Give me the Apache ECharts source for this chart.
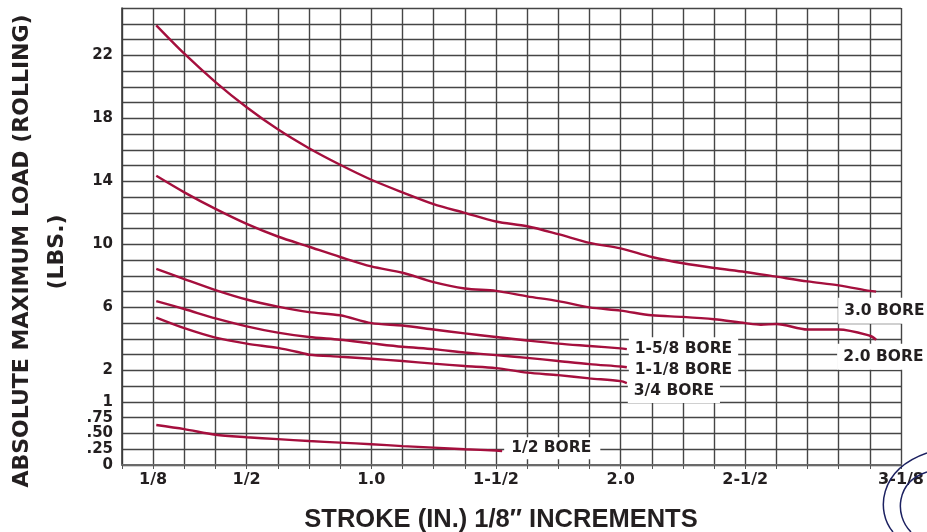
<!DOCTYPE html>
<html><head><meta charset="utf-8">
<script src="https://cdn.jsdelivr.net/npm/echarts@6/dist/echarts.min.js"></script>
<style>html,body{margin:0;padding:0;background:#fff}#c{width:927px;height:532px}</style>
</head><body><div id="c"></div>
<script>
// Stroke is measured in 1/8" increments (x value 1 = 1/8", 25 = 3-1/8")
const xTickValues = [1, 4, 8, 12, 16, 20, 25];
const xTickLabels = ['1/8', '1/2', '1.0', '1-1/2', '2.0', '2-1/2', '3-1/8'];
const yTickValues = [0, 0.25, 0.5, 0.75, 1, 2, 6, 10, 14, 18, 22];
const yTickLabels = ['0', '.25', '.50', '.75', '1', '2', '6', '10', '14', '18', '22'];

const seriesNames = ['3.0 BORE', '2.0 BORE', '1-5/8 BORE', '1-1/8 BORE', '3/4 BORE', '1/2 BORE'];

const bore30Stroke = [1.1, 2, 3, 4, 5, 6, 7, 8, 9, 10, 11, 12, 13, 14, 15, 16, 17, 18, 19, 20, 21, 22, 23, 24, 24.2];
const bore30Load   = [23.9, 22.1, 20.3, 18.7, 17.3, 16.1, 15.05, 14.1, 13.3, 12.55, 12.0, 11.45, 11.15, 10.65, 10.1, 9.75, 9.2, 8.8, 8.5, 8.25, 7.95, 7.65, 7.4, 7.05, 7.0];

const bore20Stroke = [1.1, 2, 3, 4, 5, 6, 7, 8, 9, 10, 11, 12, 13, 14, 15, 16, 17, 18, 19, 20, 20.5, 21, 22, 23, 24, 24.2];
const bore20Load   = [14.35, 13.3, 12.25, 11.3, 10.5, 9.85, 9.2, 8.6, 8.2, 7.6, 7.2, 7.05, 6.7, 6.4, 6.0, 5.8, 5.5, 5.4, 5.25, 5.0, 4.9, 4.95, 4.6, 4.6, 4.2, 3.95];

const bore158Stroke = [1.1, 2, 3, 4, 5, 6, 7, 8, 9, 10, 11, 12, 13, 14, 15, 16, 16.2];
const bore158Load   = [8.45, 7.8, 7.1, 6.5, 6.05, 5.7, 5.5, 5.0, 4.85, 4.6, 4.35, 4.12, 3.9, 3.7, 3.55, 3.4, 3.35];

const bore118Stroke = [1.1, 2, 3, 4, 5, 6, 7, 8, 9, 10, 11, 12, 13, 14, 15, 16, 16.2];
const bore118Load   = [6.4, 5.9, 5.3, 4.8, 4.4, 4.12, 3.95, 3.72, 3.5, 3.35, 3.14, 2.97, 2.8, 2.6, 2.4, 2.25, 2.2];

const bore34Stroke = [1.1, 2, 3, 4, 5, 5.8, 6, 7, 8, 9, 10, 11, 12, 13, 14, 15, 16, 16.2];
const bore34Load   = [5.35, 4.68, 4.08, 3.7, 3.43, 3.1, 3.0, 2.87, 2.74, 2.6, 2.43, 2.28, 2.15, 1.93, 1.85, 1.75, 1.66, 1.6];

const bore12Stroke = [1.1, 2, 3, 4, 5, 6, 7, 8, 9, 10, 11, 12, 12.2];
const bore12Load   = [0.635, 0.57, 0.48, 0.44, 0.41, 0.38, 0.355, 0.33, 0.30, 0.275, 0.25, 0.23, 0.22];

const strokes = [bore30Stroke, bore20Stroke, bore158Stroke, bore118Stroke, bore34Stroke, bore12Stroke];
const loads = [bore30Load, bore20Load, bore158Load, bore118Load, bore34Load, bore12Load];

// The chart's load scale is piecewise: 0-1 in .25 steps, 1-2 in .5 steps, then 1 lb per grid row.
function toGrid(v) { if (v <= 1) return v * 4; if (v <= 2) return 4 + (v - 1) * 2; return 6 + (v - 2); }
function fromGrid(g) { if (g <= 4) return g / 4; if (g <= 6) return 1 + (g - 4) / 2; return g - 4; }

const LINE = '#a50f3d';
const INK = '#231f20';
const GRIDC = '#454545';

const chart = echarts.init(document.getElementById('c'), null, { renderer: 'canvas' });

const series = seriesNames.map((name, s) => ({
  name: name,
  type: 'line',
  showSymbol: false,
  symbol: 'none',
  smooth: 0.3,
  lineStyle: { color: LINE, width: 2.4 },
  data: strokes[s].map((x, i) => [x, toGrid(loads[s][i])]),
  z: 5
}));

chart.setOption({
  animation: false,
  backgroundColor: '#fff',
  grid: { left: 122, right: 25, top: 8, bottom: 67, containLabel: false },
  xAxis: {
    type: 'value', min: 0, max: 25, interval: 1,
    axisLine: { show: true, lineStyle: { color: '#6a6a6a', width: 2 } },
    axisTick: { show: true, length: 4, lineStyle: { color: '#555', width: 1 } },
    splitLine: { show: true, lineStyle: { color: GRIDC, width: 1.4 } },
    axisLabel: {
      margin: 7,
      color: INK, fontFamily: 'DejaVu Sans', fontWeight: 'bold', fontSize: 16,
      formatter: v => { const i = xTickValues.indexOf(v); return i >= 0 ? xTickLabels[i] : ''; }
    }
  },
  yAxis: {
    type: 'value', min: 0, max: 29, interval: 1,
    axisLine: { show: true, lineStyle: { color: '#3a3a3a', width: 1.6 } },
    axisTick: { show: false },
    splitLine: { show: true, lineStyle: { color: GRIDC, width: 1.4 } },
    axisLabel: {
      margin: 9,
      color: INK, fontFamily: 'DejaVu Sans', fontWeight: 'bold', fontSize: 15,
      formatter: g => {
        const v = fromGrid(g);
        const i = yTickValues.findIndex(t => Math.abs(t - v) < 1e-6);
        return i >= 0 ? yTickLabels[i] : '';
      }
    }
  },
  series: series
});

// Bore labels placed next to each curve's end point (offset of the white box's left edge)
const labelOffsets = [[-38, 19], [-39, 17], [2, 0], [2, 3], [1, 8], [2, -3]];
const labelPadding = [[5, 12, 5, 6], [5, 12, 5, 6], [4, 6, 4, 6], [4, 6, 4, 6], [4, 6, 4, 6], [3, 9, 3, 7]];
const graphics = seriesNames.map((name, s) => {
  const n = strokes[s].length;
  const p = chart.convertToPixel({ gridIndex: 0 }, [strokes[s][n - 1], toGrid(loads[s][n - 1])]);
  return {
    type: 'text', z: 20,
    x: p[0] + labelOffsets[s][0], y: p[1] + labelOffsets[s][1],
    style: {
      text: name, fill: INK, font: 'bold 15.5px "DejaVu Sans"',
      align: 'left', verticalAlign: 'middle',
      backgroundColor: '#fff', padding: labelPadding[s]
    }
  };
});

graphics.push(
  { type: 'text', z: 20, x: 22, y: 251, rotation: Math.PI / 2,
    style: { text: 'ABSOLUTE MAXIMUM LOAD (ROLLING)', fill: INK, font: 'bold 22px "DejaVu Sans"', align: 'center', verticalAlign: 'middle' } },
  { type: 'text', z: 20, x: 57, y: 252, rotation: Math.PI / 2,
    style: { text: '(LBS.)', fill: INK, font: 'bold 22px "DejaVu Sans"', align: 'center', verticalAlign: 'middle' } },
  { type: 'text', z: 20, x: 501, y: 520,
    style: { text: 'STROKE (IN.) 1/8\u2033 INCREMENTS', fill: INK, font: 'bold 25.5px "Liberation Sans"', align: 'center', verticalAlign: 'middle' } },
  { type: 'bezierCurve', z: 25, shape: { x1: 927, y1: 453, cpx1: 878, cpy1: 470, cpx2: 876, cpy2: 512, x2: 893, y2: 532 },
    style: { stroke: '#1b2060', lineWidth: 1.5, fill: null } },
  { type: 'bezierCurve', z: 25, shape: { x1: 927, y1: 472, cpx1: 896, cpy1: 482, cpx2: 894, cpy2: 515, x2: 911, y2: 532 },
    style: { stroke: '#1b2060', lineWidth: 1.5, fill: null } }
);

chart.setOption({ graphic: graphics });
</script>
</body></html>
